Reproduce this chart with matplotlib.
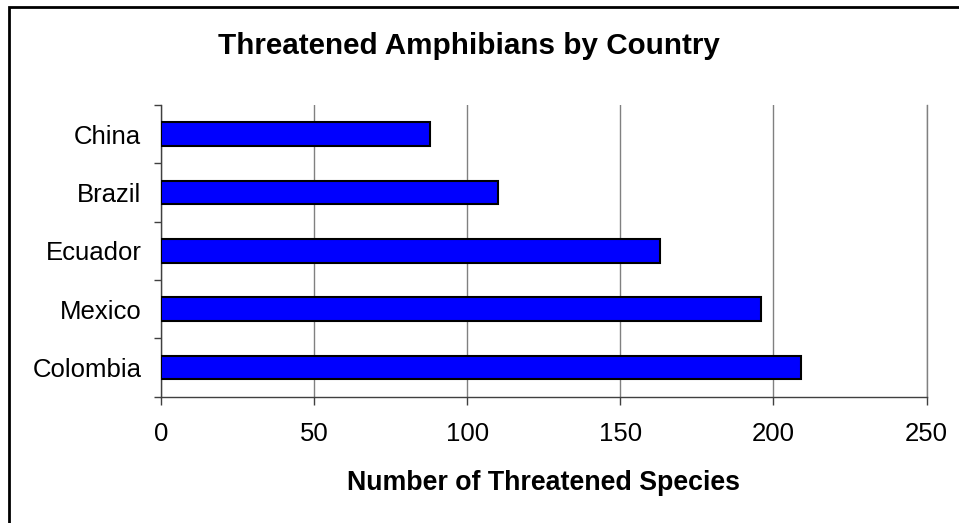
import matplotlib
matplotlib.use("Agg")
import matplotlib.pyplot as plt
from matplotlib.patches import Rectangle
import numpy as np

countries = ["Colombia", "Mexico", "Ecuador", "Brazil", "China"]
threatened = [209, 196, 163, 110, 88]
x_ticks = [0, 50, 100, 150, 200, 250]

plt.rcParams["font.family"] = ["Liberation Sans", "DejaVu Sans"]


def main():
    fig = plt.figure(figsize=(9.59, 5.23), dpi=100)
    ax = fig.add_axes([0.1676, 0.2415, 0.9663 - 0.1676, 0.7992 - 0.2415])

    y = np.arange(len(countries))
    ax.barh(y, threatened, height=0.41, color="#0000FF",
            edgecolor="black", linewidth=1.5, zorder=3)

    ax.set_xlim(0, 250)
    ax.set_ylim(-0.5, len(countries) - 0.5)
    ax.set_xticks(x_ticks)
    ax.set_xticklabels([str(t) for t in x_ticks])
    ax.set_yticks(y)
    ax.set_yticklabels(countries)
    ax.set_yticks(np.arange(-0.5, len(countries)), minor=True)

    # category boundaries carry the tick marks, labels sit between them
    ax.tick_params(axis="y", which="major", length=0, pad=14, labelsize=18.5)
    ax.tick_params(axis="y", which="minor", length=5, width=1, color="#404040",
                   direction="out")
    ax.tick_params(axis="x", length=6, width=1, color="#404040",
                   direction="out", pad=12.5, labelsize=18.5)

    ax.grid(axis="x", color="#808080", linewidth=1, zorder=0)
    ax.spines["top"].set_visible(False)
    ax.spines["right"].set_color("#808080")
    ax.spines["right"].set_linewidth(1)
    for side in ["left", "bottom"]:
        ax.spines[side].set_color("#404040")
        ax.spines[side].set_linewidth(1)

    ax.set_xlabel("Number of Threatened Species", fontsize=19.3,
                  fontweight="bold", labelpad=17)
    fig.text(469 / 959, 1 - 46 / 523, "Threatened Amphibians by Country",
             ha="center", va="center", fontsize=21.3, fontweight="bold")

    # chart area border (runs off the right and bottom of the image)
    fig.patches.append(Rectangle((9 / 959, -0.1), 1.2, 1 - 7 / 523 + 0.1,
                                 transform=fig.transFigure, fill=False,
                                 edgecolor="black", linewidth=2))

    fig.savefig("out.png", dpi=100)


if __name__ == "__main__":
    main()
